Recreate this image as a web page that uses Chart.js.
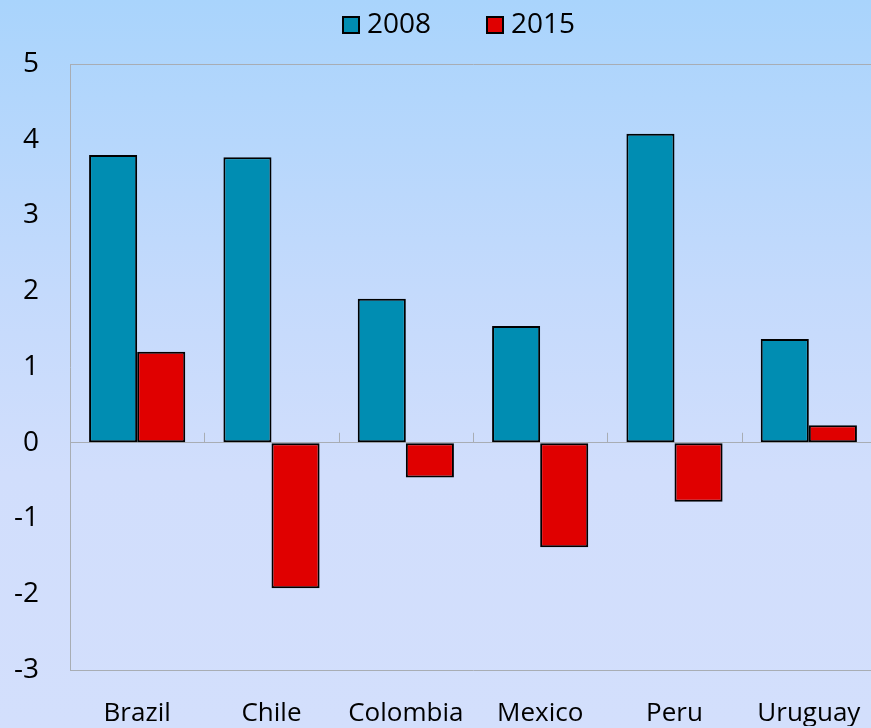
<!DOCTYPE html>
<html>
<head>
<meta charset="utf-8">
<script src="https://cdn.jsdelivr.net/npm/chart.js@4.4.1/dist/chart.umd.min.js"></script>
<style>
  html, body { margin: 0; padding: 0; overflow: hidden; }
  body {
    width: 871px; height: 728px;
    background: linear-gradient(to bottom, #a9d4fc 0%, #c4dafc 40%, #d1defc 65%, #d3dffc 100%);
  }
  #chart { display: block; }
</style>
</head>
<body>
<canvas id="chart" width="876" height="728"></canvas>
<script>
// datos
const countries = ['Brazil', 'Chile', 'Colombia', 'Mexico', 'Peru', 'Uruguay'];
const values2008 = [3.80, 3.77, 1.90, 1.54, 4.08, 1.37];
const values2015 = [1.20, -1.92, -0.46, -1.38, -0.78, 0.23];
const yTicks = [5, 4, 3, 2, 1, 0, -1, -2, -3];

const fontFamily = '"Open Sans", "DejaVu Sans", sans-serif';
const fontSize = 28;
const axisGray = '#a8adb4';

// marcas pequeñas sobre la linea del cero
const zeroTicks = {
    id: 'zeroTicks',
    afterDatasetsDraw(chart) {
        const ctx = chart.ctx;
        const x = chart.scales.x;
        const y0 = chart.scales.y.getPixelForValue(0);
        ctx.save();
        ctx.strokeStyle = axisGray;
        ctx.lineWidth = 1;
        for (let i = 1; i < countries.length; i++) {
            const px = Math.round((x.getPixelForValue(i - 1) + x.getPixelForValue(i)) / 2) + 0.5;
            ctx.beginPath();
            ctx.moveTo(px, y0);
            ctx.lineTo(px, y0 - 10);
            ctx.stroke();
        }
        ctx.restore();
    }
};

// leyenda arriba (cuadro con borde negro + año)
const topLegend = {
    id: 'topLegend',
    afterDraw(chart) {
        const ctx = chart.ctx;
        const starts = [342, 486];
        ctx.save();
        ctx.font = fontSize + 'px ' + fontFamily;
        ctx.textBaseline = 'middle';
        chart.data.datasets.forEach((ds, i) => {
            const bx = starts[i];
            ctx.fillStyle = ds.backgroundColor;
            ctx.fillRect(bx + 1, 17, 16, 16);
            ctx.strokeStyle = '#000';
            ctx.lineWidth = 2;
            ctx.strokeRect(bx + 1, 17, 16, 16);
            ctx.fillStyle = '#000';
            ctx.fillText(ds.label, bx + 25, 25);
        });
        ctx.restore();
    }
};

const ctx = document.getElementById('chart').getContext('2d');
const chart = new Chart(ctx, {
    type: 'bar',
    data: {
        labels: countries,
        datasets: [{
            label: '2008',
            data: values2008,
            backgroundColor: '#008db2',
            borderColor: '#000000',
            borderWidth: 2,
            borderSkipped: false
        }, {
            label: '2015',
            data: values2015,
            backgroundColor: '#e00000',
            borderColor: '#000000',
            borderWidth: 2,
            borderSkipped: false
        }]
    },
    options: {
        responsive: false,
        animation: false,
        layout: { padding: { top: 64, right: 0, bottom: 2, left: 0 } },
        datasets: {
            bar: { barPercentage: 1, categoryPercentage: 0.716 }
        },
        plugins: {
            legend: { display: false },
            tooltip: { enabled: false }
        },
        scales: {
            x: {
                offset: true,
                afterFit(scale) {
                    scale.height = 56;
                    scale.paddingLeft = 0;
                    scale.paddingRight = 0;
                },
                grid: { display: false },
                border: { display: true, color: axisGray, width: 1 },
                ticks: {
                    font: { family: fontFamily, size: 26 },
                    color: '#000',
                    padding: 20,
                    maxRotation: 0
                }
            },
            y: {
                min: -3,
                max: 5,
                afterFit(scale) { scale.width = 70; },
                afterBuildTicks(scale) {
                    scale.ticks = yTicks.map(v => ({ value: v }));
                },
                grid: {
                    drawTicks: false,
                    color: c => (c.tick && (c.tick.value === 0 || c.tick.value === 5)) ? axisGray : 'rgba(0,0,0,0)'
                },
                border: { display: true, color: axisGray, width: 1 },
                ticks: {
                    font: { family: fontFamily, size: fontSize },
                    color: '#000',
                    padding: 31
                }
            }
        }
    },
    plugins: [zeroTicks, topLegend]
});
</script>
</body>
</html>
